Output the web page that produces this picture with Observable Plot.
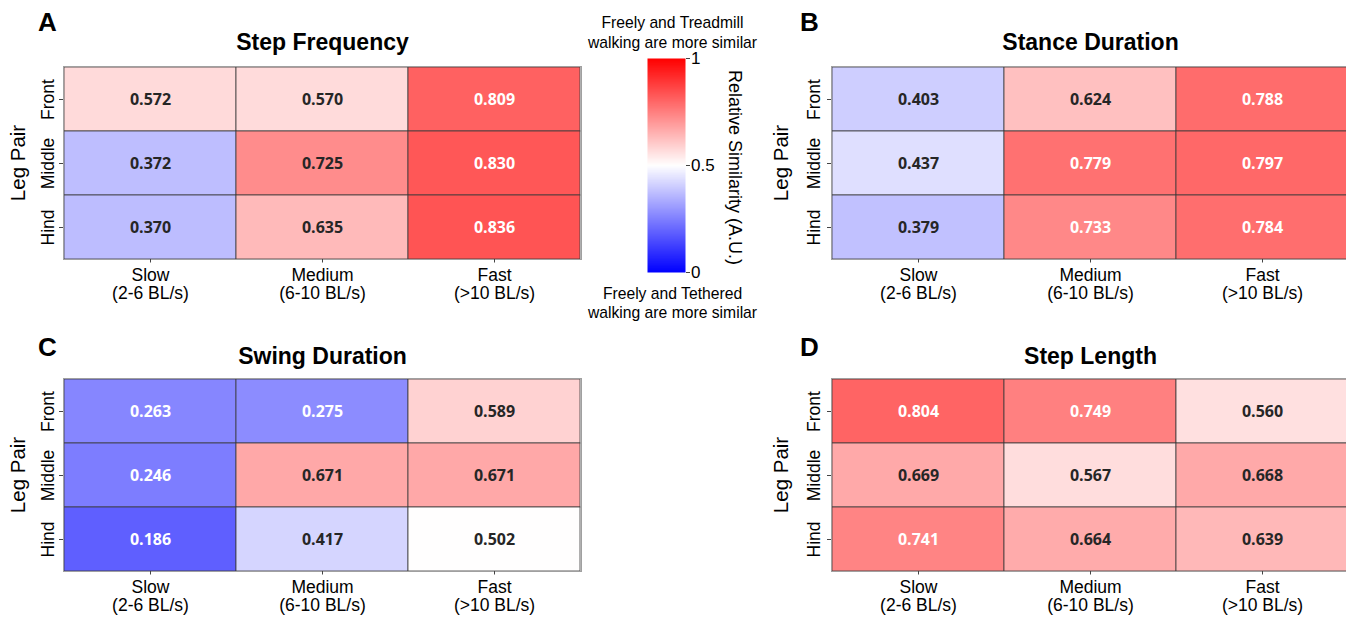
<!DOCTYPE html>
<html><head><meta charset="utf-8">
<script src="https://cdn.jsdelivr.net/npm/d3@7"></script>
<script src="https://cdn.jsdelivr.net/npm/@observablehq/plot@0.6"></script>
<style>
html,body{margin:0;padding:0;background:#fff;}
#root{position:relative;width:1346px;height:618px;overflow:hidden;font-family:"Liberation Sans",Arial,sans-serif;}
#root > svg{position:absolute;}
</style></head><body><div id="root"></div>
<script>
// ---- data ----
const speeds = ["Slow\n(2-6 BL/s)", "Medium\n(6-10 BL/s)", "Fast\n(>10 BL/s)"];
const legPairs = ["Front", "Middle", "Hind"];
const stepFrequency  = [[0.572, 0.570, 0.809], [0.372, 0.725, 0.830], [0.370, 0.635, 0.836]];
const stanceDuration = [[0.403, 0.624, 0.788], [0.437, 0.779, 0.797], [0.379, 0.733, 0.784]];
const swingDuration  = [[0.263, 0.275, 0.589], [0.246, 0.671, 0.671], [0.186, 0.417, 0.502]];
const stepLength     = [[0.804, 0.749, 0.560], [0.669, 0.567, 0.668], [0.741, 0.664, 0.639]];
const colorTicks = [0, 0.5, 1];
const colorbarLabel = "Relative Similarity (A.U.)";
const topNote = "Freely and Treadmill\nwalking are more similar";
const bottomNote = "Freely and Tethered\nwalking are more similar";

// ---- styling ----
const root = document.getElementById("root");
const FONT = '"Liberation Sans", Arial, sans-serif';
const colorScale = {type: "linear", domain: [0, 0.5, 1], range: ["#0000ff", "#ffffff", "#ff0000"], interpolate: "rgb"};
const bwr = d3.scaleLinear().domain([0, 0.5, 1]).range(["#0000ff", "#ffffff", "#ff0000"]).interpolate(d3.interpolateRgb);
function relLum(c) {
  const r = d3.rgb(c);
  const f = v => { v /= 255; return v <= 0.03928 ? v / 12.92 : Math.pow((v + 0.055) / 1.055, 2.4); };
  return 0.2126 * f(r.r) + 0.7152 * f(r.g) + 0.0722 * f(r.b);
}
const isLight = v => relLum(bwr(v)) > 0.408;

function panel({letter, title, matrix, left, top, width, marginRight, marginBottom, height, letterDx, letterDy, titleDy, tickPad, labelDx}) {
  const rows = [];
  legPairs.forEach((leg, i) => speeds.forEach((sp, j) => rows.push({leg, speed: sp, value: matrix[i][j]})));
  const svg = Plot.plot({
    width, height,
    marginLeft: 63, marginRight, marginTop: 66, marginBottom,
    style: {background: "transparent", fontFamily: FONT, overflow: "visible", color: "black"},
    x: {domain: speeds, padding: 0},
    y: {domain: legPairs, padding: 0},
    color: colorScale,
    marks: [
      Plot.cell(rows, {x: "speed", y: "leg", fill: "value", stroke: "#3a3a3a", strokeWidth: 0.8}),
      Plot.text(rows, {filter: d => isLight(d.value), x: "speed", y: "leg", text: d => d.value.toFixed(3),
        fill: "#262626", fontFamily: '"Open Sans", "Noto Sans", sans-serif', fontWeight: 700, fontSize: 16}),
      Plot.text(rows, {filter: d => !isLight(d.value), x: "speed", y: "leg", text: d => d.value.toFixed(3),
        fill: "white", fontFamily: '"Open Sans", "Noto Sans", sans-serif', fontWeight: 700, fontSize: 16}),
      Plot.frame({stroke: "#a0a0a0", strokeWidth: 1}),
      Plot.axisX({tickSize: 3.5, tickPadding: 4.5, fontSize: 17.5, lineHeight: 1.05, label: null, stroke: "#444", fill: "black"}),
      Plot.axisY({tickSize: 4, tickRotate: -90, tickPadding: tickPad, fontSize: 17.5, label: null, stroke: "#444", fill: "black"}),
      Plot.text(["Leg Pair"], {frameAnchor: "left", dx: labelDx, rotate: -90, fontSize: 20.5, textAnchor: "middle", lineAnchor: "middle", fill: "black"}),
      Plot.text([title], {frameAnchor: "top", dy: titleDy, fontSize: 23, fontWeight: "bold", fill: "black", lineAnchor: "middle"}),
      Plot.text([letter], {frameAnchor: "top-left", dx: letterDx, dy: letterDy, fontSize: 26, fontWeight: "bold", fill: "black", textAnchor: "middle", lineAnchor: "middle"})
    ]
  });
  svg.style.left = left + "px";
  svg.style.top = top + "px";
  root.append(svg);
}

panel({letter: "A", title: "Step Frequency", matrix: stepFrequency, left: 0, top: 0, width: 600, marginRight: 19, height: 309, marginBottom: 50, letterDx: -16, letterDy: -44, titleDy: -24, tickPad: 5.5, labelDx: -45});
panel({letter: "B", title: "Stance Duration", matrix: stanceDuration, left: 768, top: 0, width: 591, marginRight: 10, height: 309, marginBottom: 50, letterDx: -22, letterDy: -44, titleDy: -24, tickPad: 7.5, labelDx: -50});
panel({letter: "C", title: "Swing Duration", matrix: swingDuration, left: 0, top: 312, width: 600, marginRight: 19, height: 306, marginBottom: 47, letterDx: -16, letterDy: -31, titleDy: -22, tickPad: 5.5, labelDx: -45});
panel({letter: "D", title: "Step Length", matrix: stepLength, left: 768, top: 312, width: 591, marginRight: 10, height: 306, marginBottom: 47, letterDx: -22, letterDy: -31, titleDy: -22, tickPad: 7.5, labelDx: -50});

// ---- colorbar ----
const cb = Plot.plot({
  width: 220, height: 330,
  marginLeft: 87, marginRight: 95, marginTop: 58, marginBottom: 58,
  style: {background: "transparent", fontFamily: FONT, overflow: "visible", color: "black"},
  x: {domain: [0, 1], axis: null},
  y: {domain: [0, 1]},
  color: colorScale,
  marks: [
    Plot.raster({fill: (x, y) => y, x1: 0, x2: 1, y1: 0, y2: 1, width: 2, height: 300}),
    Plot.axisY({anchor: "right", ticks: colorTicks, tickFormat: d => String(d), tickSize: 4, tickPadding: 1.5, fontSize: 17, label: null, stroke: "#444", fill: "black"}),
    Plot.text([colorbarLabel], {frameAnchor: "right", dx: 49, dy: 2, rotate: 90, fontSize: 18, textAnchor: "middle", lineAnchor: "middle", fill: "black"}),
    Plot.text([topNote], {frameAnchor: "top", dx: 6, dy: -26.5, fontSize: 15.7, lineHeight: 1.27, textAnchor: "middle", lineAnchor: "middle", fill: "black"}),
    Plot.text([bottomNote], {frameAnchor: "bottom", dx: 6, dy: 30, fontSize: 15.7, lineHeight: 1.22, textAnchor: "middle", lineAnchor: "middle", fill: "black"})
  ]
});
cb.style.left = "560px";
cb.style.top = "0px";
root.append(cb);
</script>
</body></html>
